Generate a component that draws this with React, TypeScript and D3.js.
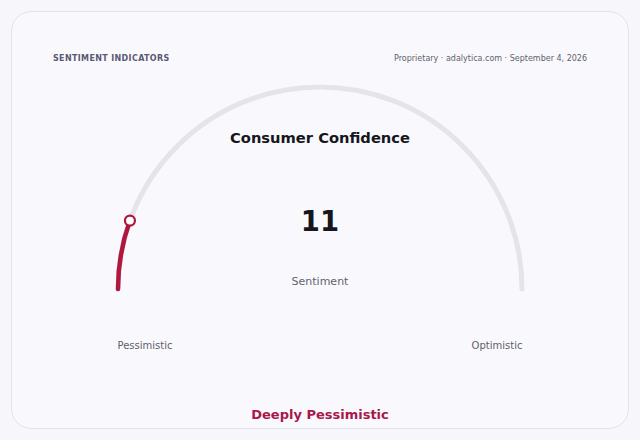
import React from "react";
import * as d3 from "d3";

const gaugeDomain = [0, 100];
const gaugeValue = [11];
const gaugeLabels = ["Pessimistic", "Optimistic"];
const headerText = ["SENTIMENT INDICATORS", "Proprietary · adalytica.com · September 4, 2026"];
const titleText = ["Consumer Confidence", "Sentiment", "Deeply Pessimistic"];

const W = 640;
const H = 440;
const cx = 320;
const cy = 289;
const r = 202;
const red = "#b0173f";
const font = "'DejaVu Sans', Verdana, sans-serif";

export default function App() {
  const angle = d3.scaleLinear().domain(gaugeDomain).range([Math.PI, 2 * Math.PI]);

  const track = d3.path();
  track.arc(cx, cy, r, angle(gaugeDomain[0]), angle(gaugeDomain[1]));

  const valuePath = d3.path();
  valuePath.arc(cx, cy, r, angle(gaugeDomain[0]), angle(gaugeValue[0]));

  const a = angle(gaugeValue[0]);
  const mx = cx + r * Math.cos(a);
  const my = cy + r * Math.sin(a);

  return (
    <div style={{ position: "fixed", left: 0, top: 0 }}>
      <svg width={W} height={H} viewBox={`0 0 ${W} ${H}`} style={{ display: "block" }}>
        <rect x={0} y={0} width={W} height={H} fill="#f7f7fb" />
        <rect x={11.5} y={11.5} width={617} height={417} rx={20} fill="#f9f9fd" stroke="#e2e2ea" strokeWidth={1} />
        <text x={53} y={61} fontFamily={font} fontSize={8} fontWeight="bold" fill="#595972" letterSpacing={0.35}>
          {headerText[0]}
        </text>
        <text x={587} y={61} fontFamily={font} fontSize={8} fill="#5f5f6e" textAnchor="end">
          {headerText[1]}
        </text>
        <path d={track.toString()} fill="none" stroke="#e4e4ea" strokeWidth={5} strokeLinecap="round" />
        <path d={valuePath.toString()} fill="none" stroke={red} strokeWidth={4.5} strokeLinecap="round" />
        <circle cx={mx} cy={my} r={5} fill="#ffffff" stroke={red} strokeWidth={2.2} />
        <text x={cx} y={143} fontFamily={font} fontSize={14.7} fontWeight="bold" fill="#16161c" textAnchor="middle">
          {titleText[0]}
        </text>
        <text x={cx} y={231} fontFamily={font} fontSize={27.5} fontWeight="bold" fill="#16161c" textAnchor="middle">
          {gaugeValue[0]}
        </text>
        <text x={cx} y={285} fontFamily={font} fontSize={11} fill="#62626e" textAnchor="middle">
          {titleText[1]}
        </text>
        <text x={145} y={349} fontFamily={font} fontSize={10} fill="#5f5f6c" textAnchor="middle">
          {gaugeLabels[0]}
        </text>
        <text x={497} y={349} fontFamily={font} fontSize={10} fill="#5f5f6c" textAnchor="middle">
          {gaugeLabels[1]}
        </text>
        <text x={cx} y={419} fontFamily={font} fontSize={13} fontWeight="bold" fill="#a8184a" textAnchor="middle">
          {titleText[2]}
        </text>
      </svg>
    </div>
  );
}
